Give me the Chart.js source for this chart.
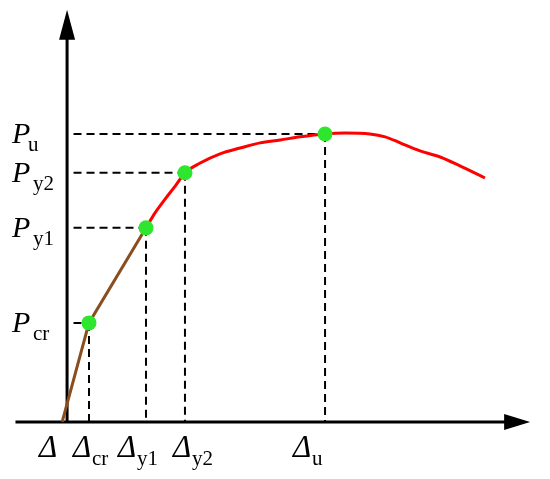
<!DOCTYPE html>
<html>
<head>
<meta charset="utf-8">
<script src="https://cdn.jsdelivr.net/npm/chart.js@4"></script>
<style>
  html, body { margin: 0; padding: 0; background: #fff; }
  #wrap { width: 550px; height: 479px; }
</style>
</head>
<body>
<div id="wrap"><canvas id="curve" width="550" height="479"></canvas></div>
<script>
// characteristic points (normalised: displacement / Δu, load / Pu)
const keyNames = ['cr', 'y1', 'y2', 'u'];
const keyDisp = [0.085, 0.306, 0.457, 1.0];
const keyLoad = [0.344, 0.674, 0.865, 1.0];

// start of the curve (the plain Δ label)
const startDisp = -0.019;

// ascending branch up to first yield (brown)
const riseDisp = [startDisp, 0.085, 0.306];
const riseLoad = [0, 0.344, 0.674];

// after first yield (red)
const softDisp = [0.306, 0.341, 0.380, 0.419, 0.457, 0.516, 0.593, 0.671, 0.748, 0.826, 0.903, 1.0,
                  1.078, 1.174, 1.233, 1.291, 1.368, 1.446, 1.523, 1.620];
const softLoad = [0.674, 0.726, 0.774, 0.819, 0.865, 0.899, 0.931, 0.951, 0.969, 0.979, 0.990, 1.0,
                  1.003, 1.0, 0.990, 0.969, 0.941, 0.920, 0.889, 0.847];

const toPoints = (xs, ys) => xs.map((x, i) => ({ x: x, y: ys[i] }));

const dashStyle = {
    showLine: true,
    borderColor: '#000',
    borderWidth: 2,
    borderDash: [8, 5],
    pointRadius: 0,
    fill: false,
    order: 3
};

const datasets = [];

// key points on top
datasets.push({
    data: toPoints(keyDisp, keyLoad),
    showLine: false,
    pointRadius: 7.5,
    pointBackgroundColor: '#2ee62e',
    pointBorderColor: '#2ee62e',
    pointBorderWidth: 0,
    order: 0
});

datasets.push({
    data: toPoints(softDisp, softLoad),
    showLine: true,
    borderColor: '#ff0000',
    borderWidth: 3,
    pointRadius: 0,
    cubicInterpolationMode: 'monotone',
    order: 1
});

datasets.push({
    data: toPoints(riseDisp, riseLoad),
    showLine: true,
    borderColor: '#8a4d1e',
    borderWidth: 3,
    pointRadius: 0,
    tension: 0,
    order: 2
});

// guide lines from each key point to both axes
keyDisp.forEach((d, i) => {
    datasets.push(Object.assign({ data: [{ x: 0.025, y: keyLoad[i] }, { x: d, y: keyLoad[i] }] }, dashStyle));
    datasets.push(Object.assign({ data: [{ x: d, y: keyLoad[i] }, { x: d, y: 0 }] }, dashStyle));
});

// axes with arrows and the P / Δ labels
const axesPlugin = {
    id: 'axesPlugin',
    beforeDatasetsDraw(chart) {
        const ctx = chart.ctx;
        const xs = chart.scales.x, ys = chart.scales.y;
        const x0 = xs.getPixelForValue(0), y0 = ys.getPixelForValue(0);
        const xLeft = xs.getPixelForValue(-0.2), xTip = xs.getPixelForValue(1.795);
        const yTip = ys.getPixelForValue(1.431);

        ctx.save();
        ctx.strokeStyle = '#000';
        ctx.fillStyle = '#000';
        ctx.lineWidth = 3;
        ctx.beginPath();
        ctx.moveTo(xLeft, y0);
        ctx.lineTo(xTip - 20, y0);
        ctx.moveTo(x0, y0);
        ctx.lineTo(x0, yTip + 24);
        ctx.stroke();

        ctx.beginPath();
        ctx.moveTo(xTip, y0);
        ctx.lineTo(xTip - 26, y0 - 8);
        ctx.lineTo(xTip - 26, y0 + 8);
        ctx.closePath();
        ctx.fill();

        ctx.beginPath();
        ctx.moveTo(x0, yTip);
        ctx.lineTo(x0 - 8, yTip + 30);
        ctx.lineTo(x0 + 8, yTip + 30);
        ctx.closePath();
        ctx.fill();
        ctx.restore();
    },
    afterDraw(chart) {
        const ctx = chart.ctx;
        const xs = chart.scales.x, ys = chart.scales.y;
        const y0 = ys.getPixelForValue(0);
        ctx.save();
        ctx.fillStyle = '#000';
        ctx.textBaseline = 'alphabetic';

        // load labels on the left
        keyNames.forEach((n, i) => {
            const py = ys.getPixelForValue(keyLoad[i]);
            ctx.font = 'italic 30px "Liberation Serif"';
            ctx.textAlign = 'left';
            ctx.fillText('P', 12, py + 9);
            ctx.font = '21px "Liberation Serif"';
            ctx.fillText(n, n === 'u' ? 28 : 33, py + 17);
        });

        // displacement labels under the axis
        ctx.font = 'italic 31px "Liberation Serif"';
        ctx.textAlign = 'left';
        ctx.fillText('Δ', 39, y0 + 35);
        const dxOff = [-16, -28, -12, -32];
        keyNames.forEach((n, i) => {
            const px = xs.getPixelForValue(keyDisp[i]) + dxOff[i];
            ctx.font = 'italic 31px "Liberation Serif"';
            ctx.fillText('Δ', px, y0 + 35);
            ctx.font = '21px "Liberation Serif"';
            ctx.fillText(n, px + 19, y0 + 43);
        });
        ctx.restore();
    }
};

new Chart(document.getElementById('curve'), {
    type: 'scatter',
    data: { datasets: datasets },
    options: {
        responsive: false,
        animation: false,
        layout: { padding: 0, autoPadding: false },
        plugins: { legend: { display: false }, tooltip: { enabled: false } },
        scales: {
            x: { type: 'linear', min: -0.26, max: 1.872, display: false },
            y: { type: 'linear', min: -0.198, max: 1.465, display: false }
        }
    },
    plugins: [axesPlugin]
});
</script>
</body>
</html>
